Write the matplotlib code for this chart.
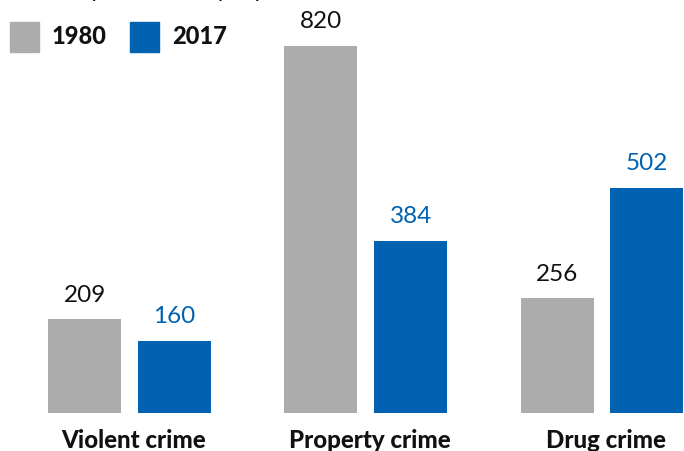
import matplotlib.pyplot as plt
import numpy as np

categories = ["Violent crime", "Property crime", "Drug crime"]
years = ["1980", "2017"]
rate_1980 = [209, 820, 256]
rate_2017 = [160, 384, 502]

gray = "#acacac"
blue = "#0062b1"

fig = plt.figure(figsize=(6.84, 4.51), dpi=100)
ax = fig.add_axes([0, 1 - 413 / 451, 1, 413 / 451])

x = np.arange(len(categories))
w = 0.309
off = 0.19
ax.bar(x - off, rate_1980, width=w, color=gray)
ax.bar(x + off, rate_2017, width=w, color=blue)

for xi, v in zip(x, rate_1980):
    ax.annotate(str(v), (xi - off, v), xytext=(0, 10), textcoords="offset points",
                ha="center", va="bottom", fontsize=17.5, color="#111111", family="Lato")
for xi, v in zip(x, rate_2017):
    ax.annotate(str(v), (xi + off, v), xytext=(0, 10), textcoords="offset points",
                ha="center", va="bottom", fontsize=17.5, color=blue, family="Lato")

ax.set_xlim(-0.548, 2.347)
ax.set_ylim(0, 922.7)
ax.axis("off")

for xi, c in zip(x, categories):
    fig.text((129.5 + xi * 236.25 + 4) / 684, 1 - 440 / 451, c, ha="center", va="center",
             fontsize=17.3, fontweight=900, family="Lato", color="#111111")

# legend
fig.patches.append(plt.Rectangle((10 / 684, 1 - 52 / 451), 29 / 684, 30 / 451,
                                 transform=fig.transFigure, color=gray))
fig.patches.append(plt.Rectangle((130 / 684, 1 - 52 / 451), 29 / 684, 30 / 451,
                                 transform=fig.transFigure, color=blue))
fig.text(52 / 684, 1 - 37 / 451, years[0], ha="left", va="center", fontsize=17,
         fontweight=900, family="Lato", color="#111111")
fig.text(172 / 684, 1 - 37 / 451, years[1], ha="left", va="center", fontsize=17,
         fontweight=900, family="Lato", color="#111111")

# subtitle, cut off at the top as in the original
fig.text(8 / 684, 1 + 9 / 451, "(arrests, per 100,000 people)", ha="left", va="center",
         fontsize=16, family="Lato", color="#111111")

fig.savefig("out.png", dpi=100)
